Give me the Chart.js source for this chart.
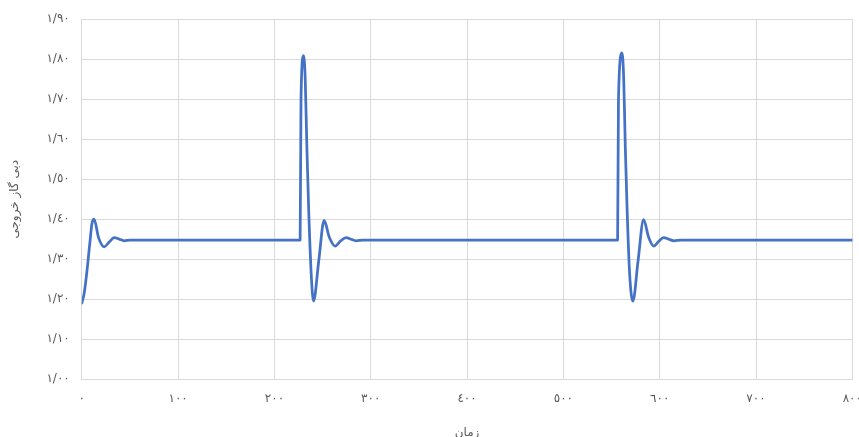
<!DOCTYPE html>
<html>
<head>
<meta charset="utf-8">
<script src="https://cdn.jsdelivr.net/npm/chart.js@4/dist/chart.umd.min.js"></script>
<style>
  html, body { margin: 0; padding: 0; background: #fff; overflow: hidden; width: 859px; height: 437px; }
  canvas { display: block; }
</style>
</head>
<body>
<canvas id="gasFlowChart" width="874" height="440"></canvas>
<script>
// time values
const times = [
  0, 2.5, 5, 8.6, 10.5, 12.8, 17.4, 23.3, 28.5, 33.7, 39, 44, 50,
  226.7, 227.6, 230.2, 232, 233.7, 235.5, 238.2, 240.6, 246, 251.6, 257, 263, 268.5, 274.3, 279.5, 284.7, 292,
  556.3, 557.2, 560.8, 562.6, 564.3, 566.1, 568.8, 572.2, 577.5, 583.3, 588.5, 593.8, 599, 604, 609.5, 614.6, 622,
  800
];
const flow = [
  1.19, 1.215, 1.262, 1.346, 1.388, 1.40, 1.354, 1.331, 1.343, 1.354, 1.350, 1.346, 1.348,
  1.348, 1.70, 1.809, 1.75, 1.58, 1.43, 1.263, 1.195, 1.295, 1.397, 1.355, 1.333, 1.345, 1.354, 1.350, 1.346, 1.348,
  1.348, 1.70, 1.816, 1.755, 1.58, 1.43, 1.263, 1.195, 1.295, 1.399, 1.355, 1.333, 1.345, 1.354, 1.350, 1.346, 1.348,
  1.348
];

const xTickLabels = ['٠', '١٠٠', '٢٠٠', '٣٠٠', '٤٠٠', '٥٠٠', '٦٠٠', '٧٠٠', '٨٠٠'];
const yTickLabels = ['١/٠٠', '١/١٠', '١/٢٠', '١/٣٠', '١/٤٠', '١/٥٠', '١/٦٠', '١/٧٠', '١/٨٠', '١/٩٠'];

const xTitle = 'زمان';
const yTitle = 'دبی گاز خروجی';

const gridColor = '#d9d9d9';
const textColor = '#595959';
const fontFamily = "'DejaVu Sans', sans-serif";

const points = times.map((t, i) => ({ x: t, y: flow[i] }));

const ctx = document.getElementById('gasFlowChart').getContext('2d');

new Chart(ctx, {
  type: 'line',
  data: {
    datasets: [{
      data: points,
      borderColor: '#4472c4',
      borderWidth: 2.75,
      pointRadius: 0,
      fill: false,
      cubicInterpolationMode: 'monotone',
      borderCapStyle: 'round',
      borderJoinStyle: 'round'
    }]
  },
  options: {
    responsive: false,
    animation: false,
    layout: { padding: { top: 19, right: 0, left: 8, bottom: 0 } },
    plugins: {
      legend: { display: false },
      tooltip: { enabled: false }
    },
    scales: {
      x: {
        type: 'linear',
        min: 0,
        max: 800,
        ticks: {
          stepSize: 100,
          padding: 12,
          color: textColor,
          font: { family: fontFamily, size: 12 },
          maxRotation: 0,
          callback: (v, i) => xTickLabels[i]
        },
        grid: { color: gridColor, drawTicks: false },
        border: { color: gridColor },
        title: {
          display: true,
          text: xTitle,
          color: textColor,
          font: { family: fontFamily, size: 12 },
          padding: { top: 8, bottom: 0 }
        }
      },
      y: {
        min: 1.0,
        max: 1.9,
        ticks: {
          stepSize: 0.1,
          padding: 12,
          color: textColor,
          font: { family: fontFamily, size: 12 },
          callback: (v, i) => yTickLabels[i]
        },
        grid: { color: gridColor, drawTicks: false },
        border: { color: gridColor },
        title: {
          display: true,
          text: yTitle,
          color: textColor,
          font: { family: fontFamily, size: 12 },
          padding: { top: 0, bottom: 12 }
        }
      }
    }
  }
});
</script>
</body>
</html>
